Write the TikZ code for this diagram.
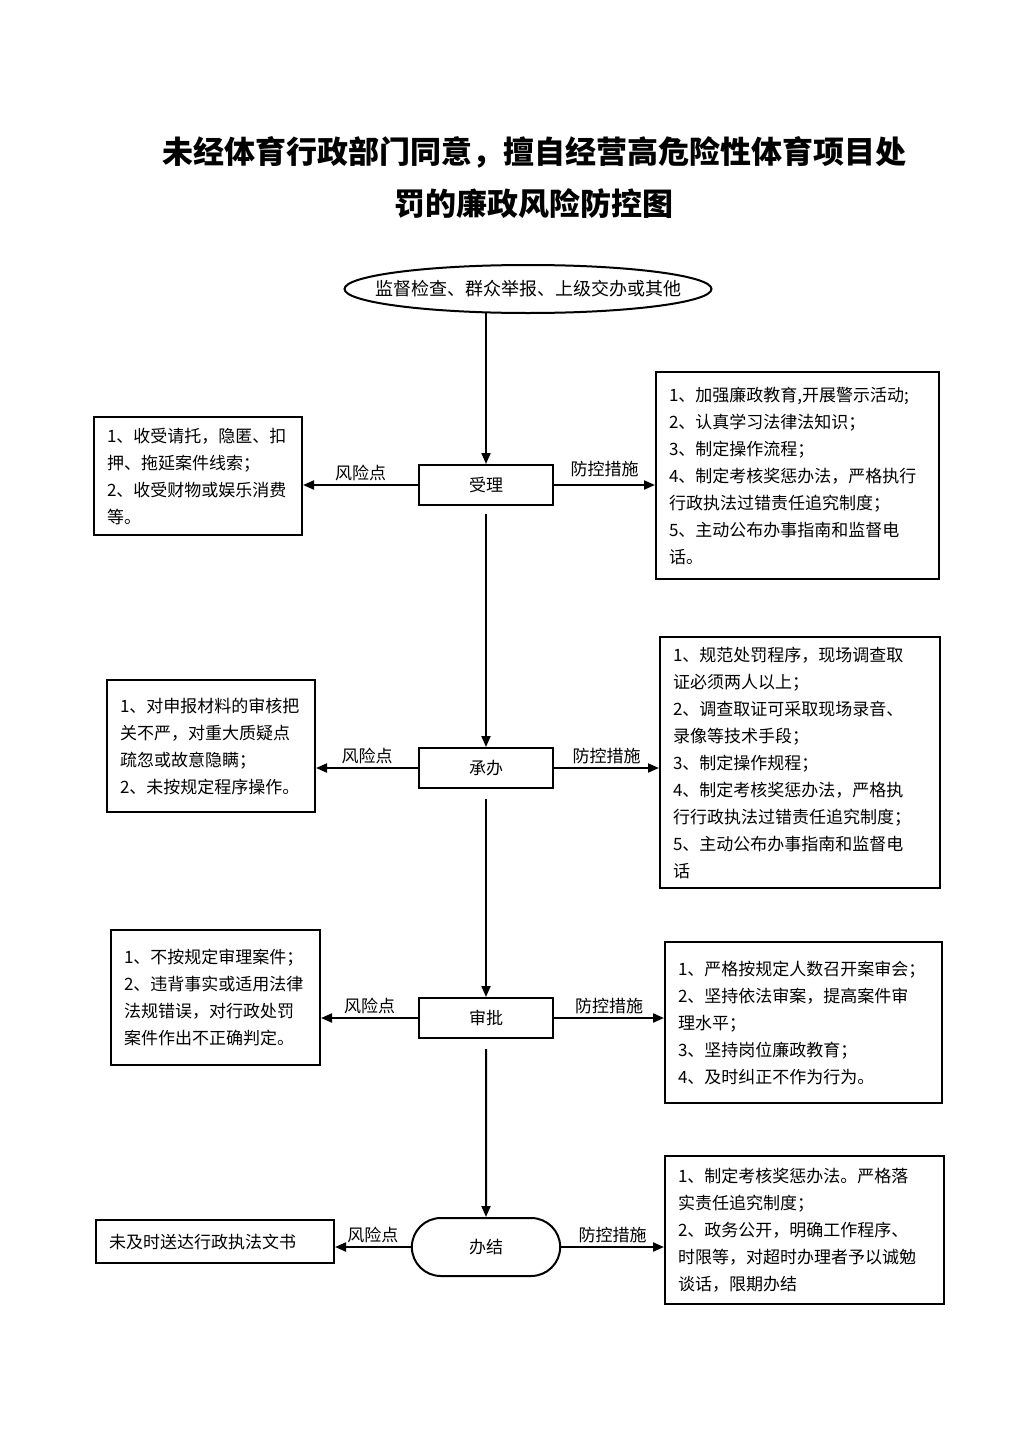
\documentclass[tikz,border=0pt]{standalone}
\usepackage{fontspec}
\setmainfont{Noto Sans CJK SC}
\usepackage{tikz}
\usetikzlibrary{arrows.meta, positioning, shapes.geometric, shapes.misc}

\begin{document}
\begin{tikzpicture}[x=1pt, y=-1pt,
    every node/.style={font=\fontsize{17}{27}\selectfont},
    stage/.style={draw, line width=2pt, minimum width=134pt, minimum height=40pt},
    sidebox/.style={draw, line width=2pt, inner xsep=13pt, inner ysep=6pt, align=left},
    flow/.style={line width=2pt, -{Triangle[length=11pt, width=9pt]}},
    lbl/.style={above, font=\fontsize{17}{20}\selectfont}
]
\useasboundingbox (0,0) rectangle (1024,1448);

% Middle column x
\def\midx{486}

% Title
\node[font=\fontsize{31}{52}\selectfont\bfseries, align=center] (title) at (534,178)
    {未经体育行政部门同意，擅自经营高危险性体育项目处\\罚的廉政风险防控图};

% Source
\node[minimum width=367pt, minimum height=48pt, inner sep=0pt,
    font=\fontsize{18}{20}\selectfont] (src) at (528,289) {监督检查、群众举报、上级交办或其他};
\draw[line width=2pt] (src.center) ellipse [x radius=183.5pt, y radius=24pt];

% Step 1: 受理
\node[stage] (shouli) at (\midx,485) {受理};
\node[sidebox, text width=182pt, minimum height=118pt] (risk1) at (198,476)
    {1、收受请托，隐匿、扣\\押、拖延案件线索；\\2、收受财物或娱乐消费\\等。};
\node[sidebox, text width=257pt, minimum height=207pt] (ctrl1) at (797.5,475.5)
    {1、加强廉政教育,开展警示活动;\\2、认真学习法律法知识；\\3、制定操作流程；\\4、制定考核奖惩办法，严格执行\\行政执法过错责任追究制度；\\5、主动公布办事指南和监督电\\话。};
\draw[flow] (shouli.north |- src.south) -- (shouli);
\draw[flow] (shouli.west) -- (shouli.west -| risk1.east) node[lbl, midway] {风险点};
\draw[flow] (shouli.east) -- (shouli.east -| ctrl1.west) node[lbl, midway, yshift=4pt] {防控措施};

% Step 2: 承办
\node[stage] (chengban) at (\midx,768) {承办};
\node[sidebox, text width=182pt, minimum height=132pt] (risk2) at (211,746)
    {1、对申报材料的审核把\\关不严，对重大质疑点\\疏忽或故意隐瞒；\\2、未按规定程序操作。};
\node[sidebox, text width=254pt, minimum height=251pt] (ctrl2) at (800,762.5)
    {1、规范处罚程序，现场调查取\\证必须两人以上；\\2、调查取证可采取现场录音、\\录像等技术手段；\\3、制定操作规程；\\4、制定考核奖惩办法，严格执\\行行政执法过错责任追究制度；\\5、主动公布办事指南和监督电\\话};
\draw[flow, shorten <=8pt] (shouli) -- (chengban);
\draw[flow] (chengban.west) -- (chengban.west -| risk2.east) node[lbl, midway] {风险点};
\draw[flow] (chengban.east) -- (chengban.east -| ctrl2.west) node[lbl, midway] {防控措施};

% Step 3: 审批
\node[stage] (shenpi) at (\midx,1018) {审批};
\node[sidebox, text width=183pt, minimum height=135pt] (risk3) at (215.5,997.5)
    {1、不按规定审理案件；\\2、违背事实或适用法律\\法规错误，对行政处罚\\案件作出不正确判定。};
\node[sidebox, text width=251pt, minimum height=161pt] (ctrl3) at (803.5,1022.5)
    {1、严格按规定人数召开案审会；\\2、坚持依法审案，提高案件审\\理水平；\\3、坚持岗位廉政教育；\\4、及时纠正不作为行为。\\[6pt]};
\draw[flow, shorten <=10pt] (chengban) -- (shenpi);
\draw[flow] (shenpi.west) -- (shenpi.west -| risk3.east) node[lbl, midway] {风险点};
\draw[flow] (shenpi.east) -- (shenpi.east -| ctrl3.west) node[lbl, midway] {防控措施};

% Step 4: 办结
\node[draw, rounded rectangle, line width=2pt, minimum width=155pt, minimum height=58pt] (banjie) at (\midx,1247) {办结};
\node[sidebox, text width=212pt, minimum height=43pt] (risk4) at (215,1241.5)
    {未及时送达行政执法文书};
\node[sidebox, text width=253pt, minimum height=148pt] (ctrl4) at (804.5,1230)
    {1、制定考核奖惩办法。严格落\\实责任追究制度；\\2、政务公开，明确工作程序、\\时限等，对超时办理者予以诚勉\\谈话，限期办结};
\draw[flow, shorten <=10pt] (shenpi) -- (banjie);
\draw[flow] (banjie.west) -- (banjie.west -| risk4.east) node[lbl, midway] {风险点};
\draw[flow] (banjie.east) -- (banjie.east -| ctrl4.west) node[lbl, midway] {防控措施};

\end{tikzpicture}
\end{document}
